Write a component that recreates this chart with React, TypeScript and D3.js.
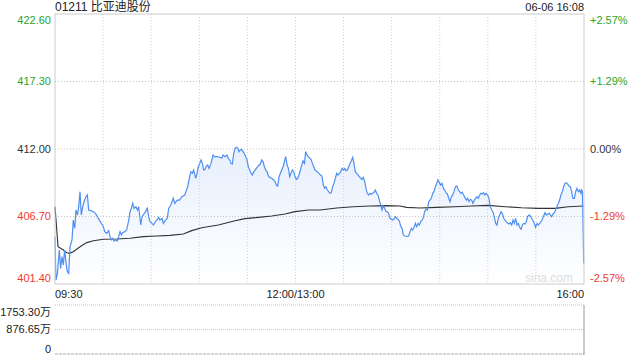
import React from "react";
import * as d3 from "d3";

const title = "01211 比亚迪股份";
const stamp = "06-06 16:08";
const prevClose = 412.0;
const priceTicks = [422.6, 417.3, 412.0, 406.7, 401.4];
const pctTicks = ["+2.57%", "+1.29%", "0.00%", "-1.29%", "-2.57%"];
const timeLabels = ["09:30", "12:00/13:00", "16:00"];
const timeLabelMinutes = [0, 150, 330];
const volTicks = [1753.3, 876.65, 0];
const volTickLabels = ["1753.30万", "876.65万", "0"];

// [minutes since 09:30 (lunch removed), price]
const priceData: [number, number][] = [
  [0, 405.11], [0.6, 401.71], [1.5, 402.24], [2.7, 404.07], [3.5, 402.63], [4.4, 403.55], [5.2, 402.89], [6.0, 404.07],
  [6.9, 403.02], [7.7, 402.37], [8.5, 402.24], [9.4, 404.33], [10.6, 404.86], [11.4, 406.42], [12.3, 405.77], [13.1, 407.21],
  [14.0, 406.82], [14.8, 407.47], [15.6, 408.65], [16.4, 406.82], [17.3, 407.47], [18.1, 407.86], [19.3, 408.26], [20.2, 408.39],
  [21.0, 407.21], [22.3, 407.16], [24.0, 407.08], [25.2, 406.95], [26.4, 406.69], [27.7, 406.42], [28.9, 406.16], [30.2, 405.9],
  [31.0, 405.51], [32.2, 405.38], [33.5, 405.59], [34.3, 405.12], [35.2, 404.86], [36.0, 404.99], [36.8, 404.78], [38.1, 404.86],
  [38.9, 404.78], [39.7, 405.12], [40.6, 405.51], [41.4, 405.25], [42.2, 405.43], [43.5, 405.51], [44.7, 405.64], [46.0, 406.42],
  [46.8, 407.08], [47.6, 407.34], [48.5, 407.73], [49.3, 407.34], [50.5, 407.47], [51.4, 407.21], [52.2, 407.47], [53.5, 406.03],
  [54.3, 406.69], [55.1, 406.82], [56.4, 407.08], [57.6, 407.34], [58.4, 406.69], [59.3, 406.29], [60.5, 406.16], [61.4, 406.03],
  [62.6, 406.29], [63.4, 406.42], [64.7, 406.63], [65.5, 406.42], [66.8, 406.56], [67.6, 406.16], [68.9, 406.42], [70.1, 406.56],
  [70.9, 407.34], [72.2, 407.6], [73.0, 407.86], [73.8, 408.13], [74.7, 407.73], [75.5, 407.86], [76.3, 407.99], [77.6, 407.99],
  [78.4, 408.13], [79.2, 408.26], [80.9, 408.39], [82.8, 409.04], [84.0, 409.83], [84.8, 410.22], [85.7, 410.09], [86.5, 410.35],
  [87.8, 409.7], [88.6, 410.09], [89.4, 410.61], [90.3, 410.87], [91.1, 411.14], [91.9, 410.87], [92.8, 410.35], [93.6, 410.4],
  [94.4, 410.66], [95.2, 410.74], [96.1, 410.48], [97.3, 410.87], [98.6, 411.53], [99.4, 411.4], [101.1, 411.4], [102.7, 411.35],
  [104.0, 411.27], [104.8, 411.53], [106.1, 411.4], [107.3, 411.53], [108.1, 411.27], [109.0, 411.14], [109.8, 410.87], [110.6, 410.82],
  [111.5, 411.66], [112.3, 412.05], [113.1, 412.13], [114.0, 412.05], [114.8, 411.79], [115.6, 411.92], [116.5, 411.97], [117.3, 411.79],
  [118.1, 411.66], [119.0, 411.4], [119.8, 411.14], [120.6, 410.61], [121.5, 410.35], [122.3, 410.09], [123.1, 409.96], [124.0, 410.22],
  [124.8, 410.35], [125.6, 410.48], [126.4, 410.61], [127.3, 410.74], [128.1, 410.82], [128.9, 411.14], [129.8, 411.01], [130.6, 410.61],
  [131.4, 410.35], [132.3, 410.22], [133.1, 409.88], [133.9, 409.77], [135.2, 409.7], [136.4, 409.57], [137.3, 409.43], [138.1, 409.17],
  [138.9, 409.09], [139.8, 409.83], [140.6, 410.09], [141.4, 410.35], [142.3, 410.61], [143.1, 411.01], [143.9, 411.4], [144.8, 410.74],
  [145.6, 410.48], [146.4, 409.83], [147.2, 410.09], [148.1, 410.35], [148.9, 410.22], [149.7, 409.83], [150.6, 409.62], [151.4, 409.7],
  [152.2, 409.96], [153.1, 410.35], [153.9, 410.74], [154.7, 411.08], [155.6, 410.87], [156.4, 411.79], [157.2, 411.53], [158.1, 411.4],
  [158.9, 411.27], [159.7, 411.19], [160.6, 410.87], [161.4, 410.61], [162.2, 410.35], [163.5, 410.22], [164.7, 410.09], [165.5, 409.96],
  [166.5, 409.88], [167.4, 409.17], [168.2, 408.91], [169.0, 409.04], [169.9, 408.78], [170.7, 408.65], [171.5, 408.52], [172.4, 408.57],
  [173.2, 409.04], [174.0, 409.3], [174.9, 409.7], [175.7, 410.09], [176.5, 409.96], [177.4, 410.09], [178.2, 410.22], [179.0, 410.48],
  [179.9, 410.35], [180.7, 410.48], [181.5, 410.3], [182.4, 410.35], [183.2, 410.61], [184.0, 410.87], [184.9, 411.08], [185.7, 411.35],
  [186.5, 410.87], [187.3, 410.22], [188.2, 410.09], [189.0, 409.96], [189.8, 409.83], [190.7, 409.7], [191.5, 409.62], [192.3, 409.77],
  [193.2, 409.43], [194.0, 408.91], [194.8, 408.52], [195.7, 408.39], [196.5, 408.52], [197.3, 408.44], [198.2, 408.52], [199.0, 408.6],
  [199.8, 408.78], [200.7, 408.52], [201.5, 408.39], [202.3, 407.99], [203.2, 407.6], [204.0, 407.21], [204.8, 407.52], [205.7, 407.34],
  [206.5, 407.08], [207.3, 407.08], [208.1, 406.95], [209.0, 406.56], [209.8, 406.48], [210.6, 406.42], [211.5, 406.5], [212.3, 406.69],
  [213.1, 406.56], [214.0, 406.48], [214.8, 406.35], [215.6, 405.95], [216.5, 405.77], [217.3, 405.25], [218.1, 405.17], [219.8, 405.14],
  [220.6, 405.17], [221.5, 405.51], [222.3, 405.77], [223.1, 405.64], [224.0, 405.85], [224.8, 406.16], [225.6, 405.9], [226.5, 406.16],
  [227.3, 406.03], [228.1, 406.29], [229.0, 406.42], [229.8, 406.63], [230.6, 407.08], [231.4, 407.29], [232.3, 407.21], [233.1, 407.86],
  [233.9, 407.99], [234.8, 408.13], [235.6, 408.52], [236.4, 408.65], [237.3, 409.04], [238.1, 409.3], [238.9, 409.57], [239.8, 409.36],
  [240.6, 409.17], [241.4, 409.3], [242.3, 408.91], [243.1, 408.78], [243.9, 408.57], [244.8, 408.47], [245.6, 408.13], [246.4, 407.86],
  [247.3, 408.26], [248.1, 408.39], [248.9, 408.65], [249.8, 409.04], [250.7, 409.09], [251.6, 408.78], [252.4, 408.65], [253.2, 408.52],
  [254.1, 408.6], [254.9, 408.39], [255.7, 408.2], [256.6, 407.99], [257.4, 408.13], [258.2, 407.86], [259.1, 408.05], [259.9, 407.99],
  [260.7, 407.73], [261.6, 407.99], [262.4, 408.13], [263.2, 408.26], [264.1, 408.13], [264.9, 408.39], [265.7, 408.52], [266.6, 408.47],
  [267.4, 408.57], [268.2, 408.39], [269.1, 408.52], [269.9, 408.39], [270.7, 408.13], [271.5, 407.47], [272.4, 407.21], [273.2, 407.08],
  [274.0, 406.69], [274.9, 406.16], [275.7, 406.03], [276.5, 406.56], [277.4, 406.82], [278.2, 407.08], [279.0, 406.95], [279.9, 406.56],
  [280.7, 406.42], [281.5, 406.29], [282.4, 406.16], [283.2, 406.11], [284.0, 406.21], [284.9, 406.03], [285.7, 406.42], [286.5, 406.16],
  [287.4, 406.56], [288.2, 406.03], [289.0, 406.16], [289.9, 405.85], [290.7, 405.69], [291.5, 406.03], [292.3, 406.16], [293.2, 406.11],
  [294.0, 406.29], [294.8, 406.69], [295.7, 406.82], [296.5, 406.74], [297.3, 406.56], [298.2, 406.37], [299.0, 406.16], [299.8, 405.85],
  [300.7, 406.16], [301.5, 406.03], [302.3, 406.16], [303.2, 406.29], [304.0, 406.48], [304.8, 406.74], [305.7, 407.0], [306.5, 406.82],
  [307.3, 406.9], [308.2, 406.95], [309.0, 406.82], [309.8, 406.69], [310.7, 406.9], [311.5, 407.0], [312.3, 407.21], [313.1, 407.47],
  [314.0, 407.73], [314.8, 407.99], [315.6, 408.39], [316.5, 408.65], [317.3, 409.04], [318.1, 409.3], [319.0, 409.36], [319.8, 409.25],
  [320.6, 409.09], [321.5, 409.04], [322.3, 408.65], [323.1, 408.13], [324.0, 408.13], [324.8, 408.65], [325.6, 408.91], [326.5, 408.65],
  [327.3, 408.78], [328.1, 408.52], [328.5, 408.78], [329.0, 408.65], [329.4, 406.16], [329.8, 403.02],
];

const avgData: [number, number][] = [
  [0, 407.47], [1.9, 404.33], [5.2, 404.07], [7.3, 403.86], [9.0, 403.81], [11.4, 403.94], [15.6, 404.33], [19.8, 404.65],
  [24.0, 404.8], [30.2, 404.91], [38.5, 404.93], [46.8, 404.99], [55.1, 405.12], [63.4, 405.17], [71.8, 405.22], [80.1, 405.32],
  [85.3, 405.59], [91.5, 405.82], [101.9, 406.03], [112.3, 406.37], [118.5, 406.53], [126.9, 406.63], [135.2, 406.74], [143.5, 406.9],
  [149.7, 407.08], [158.1, 407.21], [165.3, 407.21], [175.7, 407.37], [186.1, 407.47], [196.5, 407.52], [206.9, 407.55], [215.2, 407.52],
  [219.4, 407.42], [227.7, 407.37], [238.1, 407.42], [249.5, 407.47], [259.9, 407.52], [270.3, 407.57], [280.7, 407.47], [291.1, 407.39],
  [301.5, 407.34], [311.9, 407.34], [320.2, 407.47], [329.8, 407.52],
];

const W = 640;
const H = 360;
const L = 55;
const R = 584;
const T = 14;
const B = 284;
const VT = 305;
const VB = 354;
const FONT = "'Liberation Sans', Arial, 'Noto Sans CJK SC', sans-serif";

export default function App() {
  const x = d3.scaleLinear().domain([0, 330]).range([L, R]);
  const y = d3.scaleLinear().domain([priceTicks[4], priceTicks[0]]).range([B, T]);
  const yv = d3.scaleLinear().domain([0, volTicks[0]]).range([VB, VT]);

  const line = d3.line<[number, number]>().x((d) => x(d[0])).y((d) => y(d[1]));
  const area = d3
    .area<[number, number]>()
    .x((d) => x(d[0]))
    .y0(B)
    .y1((d) => y(d[1]));

  const gridMinutes = d3.range(30, 330, 30);
  const colorFor = (v: number) => (v > prevClose ? "#2aa52a" : v < prevClose ? "#f23a2e" : "#333");
  const labelY = (i: number, v: number) => (i === 0 ? y(v) + 6 : i === priceTicks.length - 1 ? y(v) - 6 : y(v));

  return (
    <svg
      width={W}
      height={H}
      style={{ position: "fixed", left: 0, top: 0, background: "#fff" }}
      fontFamily={FONT}
    >
      <defs>
        <linearGradient id="fillGrad" gradientUnits="userSpaceOnUse" x1="0" y1={T} x2="0" y2={B}>
          <stop offset="0%" stopColor="#cfdffa" />
          <stop offset="100%" stopColor="#ffffff" />
        </linearGradient>
      </defs>

      <text x={L} y={11} fontSize={12} fill="#222">{title}</text>
      <text x={R} y={11} fontSize={11} fill="#222" textAnchor="end">{stamp}</text>

      {/* price fill */}
      <path d={area(priceData) || ""} fill="url(#fillGrad)" />

      {/* grid */}
      {gridMinutes.map((m) => (
        <line key={"vg" + m} x1={x(m)} x2={x(m)} y1={T} y2={B} stroke="#cfcfcf" strokeDasharray="1,2" />
      ))}
      {priceTicks.slice(1, 4).map((v) => (
        <line key={"hg" + v} x1={L} x2={R} y1={y(v)} y2={y(v)} stroke="#c4c4c4" strokeDasharray="1,2" />
      ))}

      <text x={573} y={282} fontSize={12} fill="#dddddd" textAnchor="end">sina.com</text>

      {/* lines */}
      <path d={line(avgData) || ""} fill="none" stroke="#333" strokeWidth={1.1} />
      <path d={line(priceData) || ""} fill="none" stroke="#4f8ff0" strokeWidth={1.2} />

      {/* frame */}
      <rect x={L} y={T} width={R - L} height={B - T} fill="none" stroke="#cccccc" />

      {/* y labels */}
      {priceTicks.map((v, i) => (
        <text key={"yl" + i} x={51} y={labelY(i, v)} dy="0.35em" fontSize={11} textAnchor="end" fill={colorFor(v)}>
          {v.toFixed(2)}
        </text>
      ))}
      {pctTicks.map((s, i) => (
        <text key={"pl" + i} x={590} y={labelY(i, priceTicks[i])} dy="0.35em" fontSize={11} fill={colorFor(priceTicks[i])}>
          {s}
        </text>
      ))}

      {/* time labels */}
      {timeLabels.map((s, i) => (
        <text
          key={"tl" + i}
          x={x(timeLabelMinutes[i])}
          y={298}
          fontSize={11}
          fill="#222"
          textAnchor={i === 0 ? "start" : i === timeLabels.length - 1 ? "end" : "middle"}
        >
          {s}
        </text>
      ))}

      {/* volume panel */}
      {volTicks.slice(0, 2).map((v) => (
        <line key={"vv" + v} x1={L} x2={R} y1={yv(v)} y2={yv(v)} stroke="#c4c4c4" strokeDasharray="1,1" />
      ))}
      <line x1={L} x2={R} y1={VB} y2={VB} stroke="#aaaaaa" strokeDasharray="3,1" />
      <line x1={R} x2={R} y1={VT} y2={VB + 1} stroke="#999999" />
      {volTicks.map((v, i) => (
        <text key={"vl" + i} x={51} y={yv(v) + (i === 0 ? 7 : i === 2 ? -5 : 0)} dy="0.35em" fontSize={11} textAnchor="end" fill="#222">
          {volTickLabels[i]}
        </text>
      ))}
    </svg>
  );
}
